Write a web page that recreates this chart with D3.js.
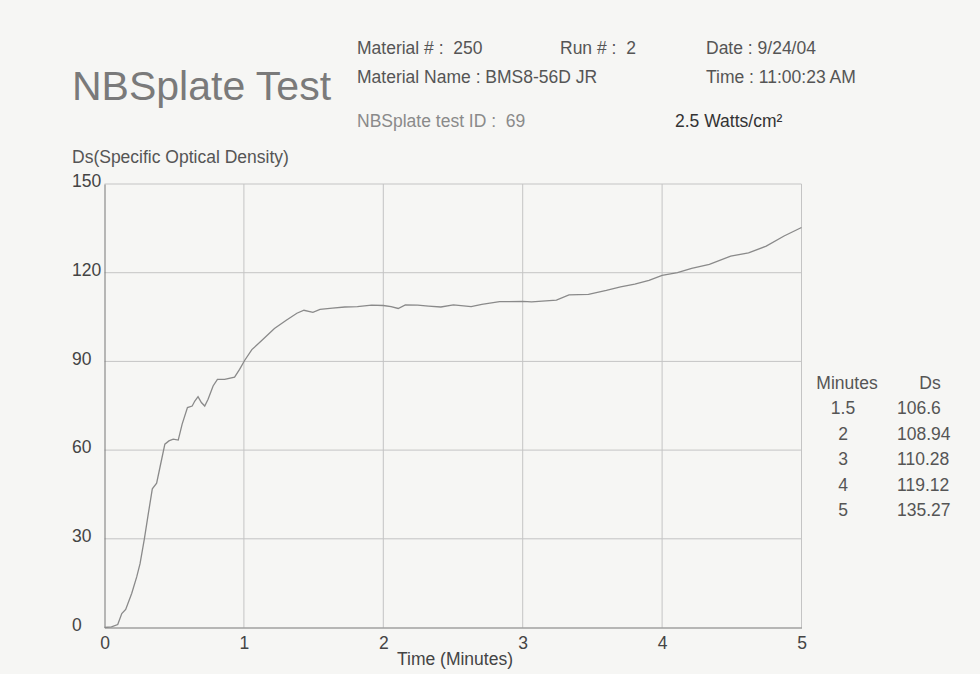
<!DOCTYPE html>
<html>
<head>
<meta charset="utf-8">
<script src="https://cdn.jsdelivr.net/npm/d3@7"></script>
<style>
  html, body { margin: 0; padding: 0; background: #f6f6f4; }
  svg { display: block; font-family: "Liberation Sans", Arial, sans-serif; }
  text { white-space: pre; }
</style>
</head>
<body>
<div id="chart"></div>
<script>
// Ds curve
const timeMin = [0, 0.05, 0.095, 0.124, 0.152, 0.195, 0.231, 0.255, 0.286, 0.314, 0.343, 0.374, 0.398,
  0.433, 0.462, 0.493, 0.529, 0.557, 0.595, 0.629, 0.648, 0.671, 0.695, 0.719, 0.743, 0.779, 0.81,
  0.862, 0.933, 0.969, 1.005, 1.057, 1.124, 1.219, 1.304, 1.38, 1.431, 1.495, 1.546, 1.635, 1.724,
  1.814, 1.916, 2.0, 2.056, 2.107, 2.158, 2.247, 2.324, 2.413, 2.503, 2.63, 2.707, 2.834, 3.0, 3.064,
  3.242, 3.332, 3.472, 3.6, 3.702, 3.804, 3.906, 4.0, 4.11, 4.212, 4.339, 4.492, 4.62, 4.747, 4.875, 5.0];
const dsValues = [0, 0.2, 1.0, 4.7, 6.1, 11.5, 17.1, 21.6, 30.0, 38.4, 46.9, 48.8, 54.2,
  62.0, 63.1, 63.7, 63.4, 68.8, 74.4, 74.9, 76.6, 78.1, 76.1, 74.9, 77.2, 81.7, 83.9,
  83.9, 84.7, 87.3, 90.3, 94.0, 96.9, 101.1, 103.9, 106.3, 107.3, 106.6, 107.6, 108.0, 108.4,
  108.5, 109.0, 108.9, 108.5, 107.9, 109.1, 109.0, 108.7, 108.4, 109.1, 108.5, 109.3, 110.2, 110.3, 110.1,
  110.7, 112.5, 112.7, 114.0, 115.2, 116.1, 117.4, 119.1, 120.0, 121.5, 122.8, 125.6, 126.7, 129.0, 132.4, 135.3];

const xTicks = [0, 1, 2, 3, 4, 5];
const yTicks = [0, 30, 60, 90, 120, 150];

// summary table on the right
const tableMinutes = ["1.5", "2", "3", "4", "5"];
const tableDs = ["106.6", "108.94", "110.28", "119.12", "135.27"];

const width = 980;
const height = 674;
const fs = 17.5;
const fontFam = "Liberation Sans, Arial, sans-serif";

const svg = d3.select("#chart").append("svg")
  .attr("width", width)
  .attr("height", height);

svg.append("rect").attr("width", width).attr("height", height).attr("fill", "#f6f6f4");

const x = d3.scaleLinear().domain([0, 5]).range([104.5, 801.5]);
const y = d3.scaleLinear().domain([0, 150]).range([627.5, 184]);

// header
svg.append("text").attr("x", 72).attr("y", 100)
  .attr("font-size", 41).attr("fill", "#7a7a7a")
  .text("NBSplate Test");

const header = [
  { tx: 357, ty: 54, t: "Material # :  250", c: "#555" },
  { tx: 560, ty: 54, t: "Run # :  2", c: "#555" },
  { tx: 706, ty: 54, t: "Date : 9/24/04", c: "#555" },
  { tx: 357, ty: 83, t: "Material Name : BMS8-56D JR", c: "#555" },
  { tx: 706, ty: 83, t: "Time : 11:00:23 AM", c: "#555" },
  { tx: 357, ty: 127, t: "NBSplate test ID :  69", c: "#8a8a8a" },
  { tx: 675, ty: 127, t: "2.5 Watts/cm²", c: "#333" }
];
svg.append("g").selectAll("text").data(header).join("text")
  .attr("x", d => d.tx).attr("y", d => d.ty)
  .attr("font-size", fs).attr("fill", d => d.c)
  .text(d => d.t);

svg.append("text").attr("x", 72).attr("y", 163)
  .attr("font-size", fs).attr("fill", "#555")
  .text("Ds(Specific Optical Density)");

// grid
const grid = svg.append("g");
grid.selectAll("line.h").data(yTicks.filter(v => v > 0)).join("line")
  .attr("class", "h")
  .attr("x1", x(0)).attr("x2", x(5))
  .attr("y1", d => y(d)).attr("y2", d => y(d))
  .attr("stroke", "#c4c4c4").attr("stroke-width", 1);
grid.selectAll("line.v").data(xTicks.filter(v => v > 0)).join("line")
  .attr("class", "v")
  .attr("y1", y(0)).attr("y2", y(150))
  .attr("x1", d => x(d)).attr("x2", d => x(d))
  .attr("stroke", "#c4c4c4").attr("stroke-width", 1);

// axes
const xAxis = svg.append("g")
  .attr("transform", `translate(0,${y(0)})`)
  .call(d3.axisBottom(x).tickValues(xTicks).tickFormat(d3.format("d")).tickSize(0).tickPadding(9));
xAxis.select(".domain").attr("stroke", "#777");
xAxis.selectAll("text").attr("font-size", fs).attr("fill", "#444").attr("font-family", fontFam);

const yAxis = svg.append("g")
  .attr("transform", `translate(${x(0)},0)`)
  .call(d3.axisLeft(y).tickValues(yTicks).tickSize(0).tickPadding(0));
yAxis.select(".domain").attr("stroke", "#777");
yAxis.selectAll("text")
  .attr("text-anchor", "start")
  .attr("x", 72 - x(0))
  .attr("dy", "0.15em")
  .attr("font-size", fs).attr("fill", "#444").attr("font-family", fontFam);

svg.append("text").attr("x", 455).attr("y", 665)
  .attr("text-anchor", "middle").attr("font-size", fs).attr("fill", "#444")
  .text("Time (Minutes)");

// curve
const pts = timeMin.map((t, i) => [t, dsValues[i]]);
svg.append("path")
  .datum(pts)
  .attr("fill", "none")
  .attr("stroke", "#8a8a8a")
  .attr("stroke-width", 1.3)
  .attr("d", d3.line().x(d => x(d[0])).y(d => y(d[1])));

// table
const tbl = svg.append("g").attr("font-size", fs).attr("fill", "#555");
tbl.append("text").attr("x", 847).attr("y", 389).attr("text-anchor", "middle").text("Minutes");
tbl.append("text").attr("x", 930).attr("y", 389).attr("text-anchor", "middle").text("Ds");
const rowY = d3.scalePoint().domain(d3.range(tableMinutes.length)).range([414, 516]);
tbl.selectAll("text.m").data(tableMinutes).join("text")
  .attr("class", "m")
  .attr("x", 843).attr("y", (d, i) => rowY(i))
  .attr("text-anchor", "middle").text(d => d);
tbl.selectAll("text.d").data(tableDs).join("text")
  .attr("class", "d")
  .attr("x", 897).attr("y", (d, i) => rowY(i))
  .text(d => d);
</script>
</body>
</html>
